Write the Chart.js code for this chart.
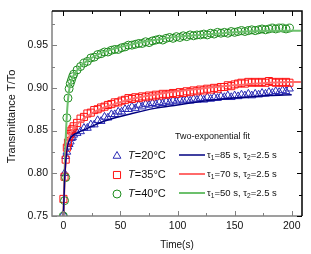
<!DOCTYPE html>
<html>
<head>
<meta charset="utf-8">
<style>
  html, body { margin: 0; padding: 0; background: #fff; }
  #wrap { width: 311px; height: 254px; }
</style>
<script src="https://cdn.jsdelivr.net/npm/chart.js@4/dist/chart.umd.min.js"></script>
</head>
<body>
<div id="wrap"><canvas id="chart" width="311" height="254"></canvas></div>
<script>
// measured time points (s)
var times = [0, 1, 2, 3, 4, 5, 6, 7, 8, 9,
    12, 15, 18, 21, 24, 27, 30, 33, 36,
    39, 42, 45, 48, 51, 54, 57, 60, 63,
    66, 69, 72, 75, 78, 81, 84, 87, 90,
    93, 96, 99, 102, 105, 108, 111, 114, 117,
    120, 123, 126, 129, 132, 135, 138, 141, 144,
    147, 150, 153, 156, 159, 162, 165, 168, 171,
    174, 177, 180, 183, 186, 189, 192, 195, 198];

var t20 = [0.752, 0.800, 0.820, 0.825, 0.831, 0.834, 0.837, 0.841, 0.842, 0.845,
    0.847, 0.849, 0.853, 0.853, 0.857, 0.857, 0.862, 0.861, 0.866,
    0.865, 0.869, 0.869, 0.872, 0.872, 0.875, 0.875, 0.878, 0.876,
    0.880, 0.878, 0.881, 0.880, 0.882, 0.881, 0.883, 0.882, 0.884,
    0.883, 0.885, 0.884, 0.886, 0.885, 0.886, 0.885, 0.887, 0.886,
    0.888, 0.886, 0.889, 0.887, 0.889, 0.888, 0.890, 0.889, 0.891,
    0.889, 0.891, 0.890, 0.892, 0.891, 0.893, 0.891, 0.893, 0.892,
    0.894, 0.893, 0.895, 0.894, 0.896, 0.895, 0.897, 0.896, 0.899];

var t35 = [0.770, 0.796, 0.816, 0.830, 0.836, 0.843, 0.846, 0.850, 0.852, 0.855,
    0.859, 0.864, 0.866, 0.870, 0.871, 0.874, 0.875, 0.877, 0.878,
    0.880, 0.881, 0.883, 0.883, 0.885, 0.886, 0.888, 0.887, 0.889,
    0.888, 0.890, 0.889, 0.891, 0.890, 0.892, 0.891, 0.893, 0.892,
    0.893, 0.894, 0.893, 0.895, 0.894, 0.896, 0.895, 0.897, 0.896,
    0.898, 0.897, 0.899, 0.898, 0.900, 0.899, 0.901, 0.901, 0.903,
    0.902, 0.904, 0.905, 0.906, 0.905, 0.907, 0.906, 0.907, 0.906,
    0.907, 0.906, 0.908, 0.907, 0.906, 0.907, 0.906, 0.907, 0.906];

var t40 = [0.750, 0.768, 0.795, 0.865, 0.888, 0.899, 0.905, 0.909, 0.913, 0.916,
    0.921, 0.925, 0.929, 0.931, 0.935, 0.936, 0.939, 0.940, 0.942,
    0.942, 0.944, 0.945, 0.945, 0.947, 0.948, 0.950, 0.950, 0.951,
    0.952, 0.952, 0.954, 0.953, 0.955, 0.956, 0.957, 0.956, 0.958,
    0.959, 0.958, 0.960, 0.959, 0.961, 0.960, 0.962, 0.961, 0.962,
    0.962, 0.963, 0.962, 0.964, 0.963, 0.965, 0.964, 0.965, 0.964,
    0.966, 0.965, 0.966, 0.967, 0.966, 0.967, 0.968, 0.967, 0.968,
    0.969, 0.968, 0.969, 0.970, 0.969, 0.970, 0.970, 0.969, 0.970];

// two-exponential fit curves
var fitTimes = [0, 1, 2, 3, 4, 5, 6, 8, 10, 15, 20, 30, 40, 60, 80, 100, 120, 140, 160, 180, 200, 208];
var fit20 = [0.750, 0.790, 0.813, 0.826, 0.834, 0.838, 0.841, 0.844, 0.846, 0.849, 0.852, 0.858, 0.863, 0.870, 0.876, 0.880, 0.884, 0.887, 0.889, 0.891, 0.892];
var fit35 = [0.750, 0.790, 0.815, 0.830, 0.838, 0.843, 0.846, 0.851, 0.855, 0.861, 0.866, 0.874, 0.879, 0.887, 0.892, 0.896, 0.899, 0.902, 0.904, 0.906, 0.907, 0.907];
var fit40 = [0.750, 0.800, 0.840, 0.868, 0.886, 0.897, 0.904, 0.912, 0.917, 0.925, 0.931, 0.939, 0.944, 0.951, 0.956, 0.960, 0.962, 0.964, 0.966, 0.967, 0.967, 0.967];

var xTicks = [0, 50, 100, 150, 200];
var xMinor = [25, 75, 125, 175];
var yTicks = [0.75, 0.80, 0.85, 0.90, 0.95];
var yMinor = [0.775, 0.825, 0.875, 0.925, 0.975];

var dataLegend = ['20', '35', '40'];
var fitLegend = [['85', '2.5'], ['70', '2.5'], ['50', '2.5']];

(function () {
    var FONT = "'Liberation Sans', Arial, sans-serif";
    var BLUE = '#2a2ab4', RED = '#ff1414', GREEN = '#1e8c1e';
    var FIT_BLUE = '#000080', FIT_RED = '#ff6a6a', FIT_GREEN = '#6cc06c';

    function zip(xs, ys) {
        var out = [];
        var n = Math.min(xs.length, ys.length);
        for (var i = 0; i < n; i++) out.push({ x: xs[i], y: ys[i] });
        return out;
    }

    function markerSet(label, ys, color, style, r, order) {
        return {
            label: label,
            data: zip(times, ys),
            showLine: false,
            pointStyle: style,
            pointRadius: r,
            pointBorderWidth: 1,
            pointBorderColor: color,
            pointBackgroundColor: 'rgba(0,0,0,0)',
            borderColor: color,
            order: order
        };
    }

    function fitSet(label, ys, color, w, order) {
        return {
            label: label,
            data: zip(fitTimes, ys),
            showLine: true,
            borderColor: color,
            borderWidth: w,
            pointRadius: 0,
            cubicInterpolationMode: 'monotone',
            order: order
        };
    }

    // draws a run of text pieces, some italic / subscript
    function richText(ctx, x, y, parts, size, color) {
        ctx.fillStyle = color;
        ctx.textBaseline = 'middle';
        ctx.textAlign = 'left';
        parts.forEach(function (p) {
            var s = p.sub ? size * 0.7 : size;
            ctx.font = (p.it ? 'italic ' : '') + s + 'px ' + FONT;
            ctx.fillText(p.t, x, p.sub ? y + size * 0.3 : y);
            x += ctx.measureText(p.t).width;
        });
    }

    var framePlugin = {
        id: 'frame',
        afterDatasetsDraw: function (chart) {
            var ctx = chart.ctx, a = chart.chartArea;
            var xs = chart.scales.x, ys = chart.scales.y;
            ctx.save();
            ctx.lineWidth = 1.5;
            // left / bottom in gray, top / right in black
            ctx.strokeStyle = '#808080';
            ctx.beginPath();
            ctx.moveTo(a.left, a.top); ctx.lineTo(a.left, a.bottom); ctx.lineTo(a.right, a.bottom);
            ctx.stroke();
            ctx.strokeStyle = '#000';
            ctx.beginPath();
            ctx.moveTo(a.left, a.top); ctx.lineTo(a.right, a.top); ctx.lineTo(a.right, a.bottom);
            ctx.stroke();

            ctx.lineWidth = 1;
            function xt(v, len) {
                var px = Math.round(xs.getPixelForValue(v)) + 0.5;
                ctx.strokeStyle = '#808080';
                ctx.beginPath(); ctx.moveTo(px, a.bottom); ctx.lineTo(px, a.bottom - len); ctx.stroke();
                ctx.strokeStyle = '#000';
                ctx.beginPath(); ctx.moveTo(px, a.top); ctx.lineTo(px, a.top + len); ctx.stroke();
            }
            function yt(v, len) {
                var py = Math.round(ys.getPixelForValue(v)) + 0.5;
                ctx.strokeStyle = '#808080';
                ctx.beginPath(); ctx.moveTo(a.left, py); ctx.lineTo(a.left + len, py); ctx.stroke();
                ctx.strokeStyle = '#000';
                ctx.beginPath(); ctx.moveTo(a.right, py); ctx.lineTo(a.right - len, py); ctx.stroke();
            }
            xTicks.forEach(function (v) { xt(v, 5); });
            xMinor.forEach(function (v) { xt(v, 3); });
            yTicks.forEach(function (v) { yt(v, 5); });
            yMinor.forEach(function (v) { yt(v, 3); });

            // axis titles
            ctx.fillStyle = '#111';
            ctx.font = '10px ' + FONT;
            ctx.textAlign = 'center';
            ctx.textBaseline = 'middle';
            ctx.fillText('Time(s)', (a.left + a.right) / 2, 245);
            ctx.save();
            ctx.translate(12, (a.top + a.bottom) / 2 + 3);
            ctx.rotate(-Math.PI / 2);
            ctx.font = '11px ' + FONT;
            ctx.fillText('Transmittance T/To', 0, 0);
            ctx.restore();

            // legend, data column
            var rows = [156, 175, 194];
            var mk = [
                { c: BLUE, s: 'triangle', r: 4.5 },
                { c: RED, s: 'rect', r: 5 },
                { c: GREEN, s: 'circle', r: 4 }
            ];
            rows.forEach(function (y, i) {
                ctx.lineWidth = 1;
                ctx.strokeStyle = mk[i].c;
                ctx.fillStyle = 'rgba(0,0,0,0)';
                Chart.helpers.drawPoint(ctx, { pointStyle: mk[i].s, radius: mk[i].r, borderWidth: 1 }, 117, y);
                richText(ctx, 128, y, [{ t: 'T', it: true }, { t: '=' + dataLegend[i] + '°C' }], 11, '#111');
            });

            // legend, fit column
            ctx.fillStyle = '#111';
            ctx.font = '9px ' + FONT;
            ctx.textAlign = 'left';
            ctx.fillText('Two-exponential fit', 175, 137);
            var fc = [FIT_BLUE, FIT_RED, FIT_GREEN];
            var fw = [1.5, 2, 2];
            rows.forEach(function (y, i) {
                var ly = y - 1;
                ctx.strokeStyle = fc[i];
                ctx.lineWidth = fw[i];
                ctx.beginPath(); ctx.moveTo(179, ly); ctx.lineTo(205, ly); ctx.stroke();
                richText(ctx, 207, ly, [
                    { t: 'τ' }, { t: '1', sub: true }, { t: '=' + fitLegend[i][0] + ' s, τ' },
                    { t: '2', sub: true }, { t: '=' + fitLegend[i][1] + ' s' }
                ], 9.5, '#111');
            });
            ctx.restore();
        }
    };

    function boot() {
        var el = document.getElementById('chart');
        new Chart(el, {
            type: 'scatter',
            data: {
                datasets: [
                    fitSet('fit 20', fit20, FIT_BLUE, 1.5, 1),
                    fitSet('fit 35', fit35, FIT_RED, 2, 2),
                    fitSet('fit 40', fit40, FIT_GREEN, 2, 3),
                    markerSet('T=40°C', t40, GREEN, 'circle', 4, 4),
                    markerSet('T=35°C', t35, RED, 'rect', 5, 5),
                    markerSet('T=20°C', t20, BLUE, 'triangle', 4.5, 6)
                ]
            },
            options: {
                responsive: false,
                animation: false,
                layout: { padding: { top: 11, right: 9, left: 0, bottom: 0 } },
                plugins: { legend: { display: false }, tooltip: { enabled: false } },
                scales: {
                    x: {
                        type: 'linear',
                        min: -10,
                        max: 209,
                        grid: { display: false, drawTicks: false },
                        border: { display: false },
                        afterBuildTicks: function (s) { s.ticks = xTicks.map(function (v) { return { value: v }; }); },
                        afterFit: function (s) { s.height = 38; },
                        ticks: { padding: 4, color: '#111', font: { family: FONT, size: 10.5 }, maxRotation: 0 }
                    },
                    y: {
                        type: 'linear',
                        min: 0.75,
                        max: 0.99,
                        grid: { display: false, drawTicks: false },
                        border: { display: false },
                        afterBuildTicks: function (s) { s.ticks = yTicks.map(function (v) { return { value: v }; }); },
                        afterFit: function (s) { s.width = 52; },
                        ticks: {
                            padding: 4,
                            color: '#111',
                            font: { family: FONT, size: 10.5 },
                            callback: function (v) { return Number(v).toFixed(2); }
                        }
                    }
                }
            },
            plugins: [framePlugin]
        });
    }

    if (document.readyState === 'loading') {
        document.addEventListener('DOMContentLoaded', boot);
    } else {
        boot();
    }
})();
</script>
</body>
</html>
